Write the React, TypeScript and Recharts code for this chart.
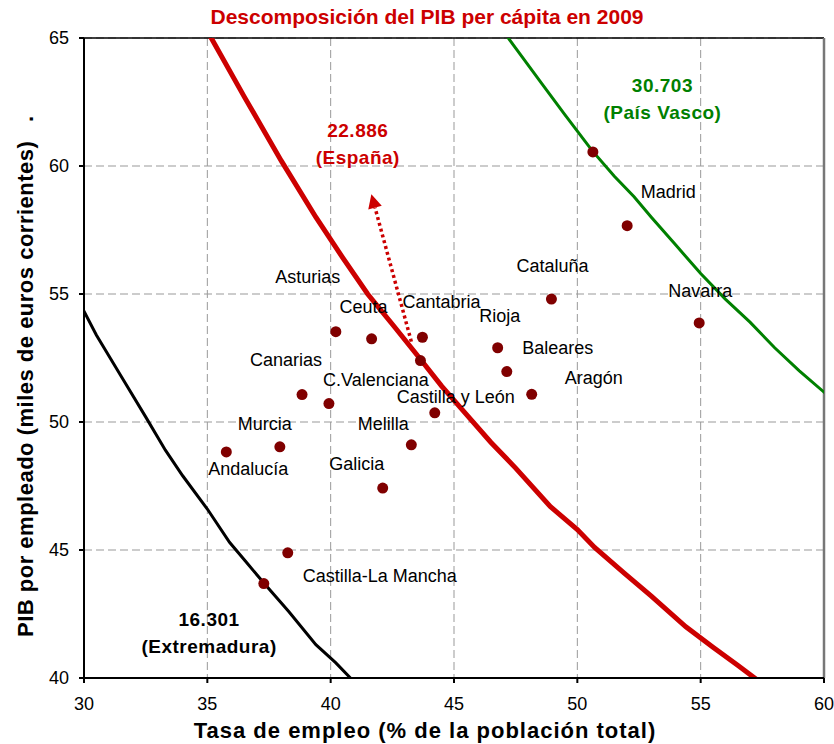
import React from 'react'
import {
  ComposedChart, Line, Scatter, XAxis, YAxis, CartesianGrid, ReferenceLine, ReferenceDot, Label,
} from 'recharts'

// regiones: tasa de empleo (%) y PIB por empleado (miles de euros)
const regions = [
  'País Vasco', 'Madrid', 'Cataluña', 'Navarra', 'Rioja', 'Baleares', 'Aragón',
  'Asturias', 'Ceuta', 'Cantabria', 'España', 'Canarias', 'C.Valenciana', 'Castilla y León',
  'Melilla', 'Murcia', 'Andalucía', 'Galicia', 'Castilla-La Mancha', 'Extremadura',
]
const empleo = [
  50.63, 52.02, 48.95, 54.94, 46.77, 47.14, 48.15,
  40.21, 41.66, 43.72, 43.64, 38.84, 39.93, 44.22,
  43.27, 37.94, 35.77, 42.11, 38.26, 37.29,
]
const pibEmpleado = [
  60.55, 57.67, 54.8, 53.87, 52.9, 51.97, 51.08,
  53.53, 53.25, 53.31, 52.4, 51.07, 50.72, 50.36,
  49.11, 49.03, 48.83, 47.42, 44.89, 43.69,
]

// curvas de igual PIB per cápita
const espanaX = [35.1, 36.5, 38.0, 39.4, 40.5, 41.5, 42.6, 43.6, 44.5, 45.5, 46.5, 47.5, 48.9, 50.0, 50.7, 51.9, 53.0, 54.4, 55.5, 56.5, 57.6]
const espanaY = [65.1, 62.7, 60.2, 58.0, 56.4, 55.0, 53.7, 52.5, 51.4, 50.3, 49.2, 48.2, 46.7, 45.8, 45.1, 44.1, 43.2, 42.0, 41.2, 40.5, 39.7]
const vascoX = [46.9, 47.5, 48.5, 49.5, 50.6, 51.5, 52.3, 53.0, 54.0, 55.0, 56.0, 57.0, 58.0, 59.0, 60.2]
const vascoY = [65.4, 64.6, 63.3, 62.0, 60.6, 59.6, 58.8, 58.0, 56.9, 55.8, 54.8, 53.9, 52.9, 52.0, 51.0]
const extremX = [29.8, 30.5, 31.5, 32.5, 33.3, 34.0, 35.0, 35.9, 36.6, 37.3, 38.3, 39.4, 40.2, 41.0]
const extremY = [54.7, 53.4, 51.8, 50.2, 48.9, 47.9, 46.6, 45.3, 44.5, 43.7, 42.6, 41.3, 40.6, 39.8]

const xTicks = [30, 35, 40, 45, 50, 55, 60]
const yTicks = [40, 45, 50, 55, 60, 65]

// flecha punteada (España)
const arrowFrom = { x: 43.27, y: 53.14 }
const arrowTo = { x: 41.65, y: 58.9 }

// notas de nivel de cada curva
const noteX = [41.1, 53.45, 35.07]
const noteY = [60.9, 62.66, 41.8]
const noteText = [['22.886', '(España)'], ['30.703', '(País Vasco)'], ['16.301', '(Extremadura)']]

const RED = '#cc0000'
const GREEN = '#008000'
const DOT = '#800000'
const FONT = '"Liberation Sans", Arial, sans-serif'
const noteColors = [RED, GREEN, '#000000']

// desplazamiento de las etiquetas respecto al punto (px)
const labelOffset: Record<string, [number, number]> = {
  Madrid: [41, -34], 'Cataluña': [1, -33], Navarra: [1, -32], Rioja: [2, -32],
  Baleares: [51, -24], 'Aragón': [62, -16], Asturias: [-28, -55], Ceuta: [-8, -32],
  Cantabria: [19, -35], Canarias: [-16, -35], 'C.Valenciana': [47, -24],
  'Castilla y León': [21, -16], Melilla: [-28, -21], Murcia: [-15, -23],
  'Andalucía': [22, 17], Galicia: [-26, -24], 'Castilla-La Mancha': [92, 23],
}

const pointData = regions.map((name, i) => ({ name, x: empleo[i], y: pibEmpleado[i] }))
const toLine = (xs: number[], ys: number[]) => xs.map((x, i) => ({ x, y: ys[i] }))

function RegionDot(props: any) {
  const { cx, cy, payload } = props
  const off = labelOffset[payload.name]
  return (
    <g>
      <circle cx={cx} cy={cy} r={5.5} fill={DOT} />
      {off && (
        <text x={cx + off[0]} y={cy + off[1]} textAnchor="middle" dominantBaseline="central"
          fontFamily={FONT} fontSize={18} fill="#000">{payload.name}</text>
      )}
    </g>
  )
}

function Arrow(props: any) {
  const { x1, y1, x2, y2 } = props
  const ang = Math.atan2(y2 - y1, x2 - x1)
  const len = 14
  const w = 7
  const bx = x2 - len * Math.cos(ang)
  const by = y2 - len * Math.sin(ang)
  const px = -Math.sin(ang) * w
  const py = Math.cos(ang) * w
  return (
    <g>
      <line x1={x1} y1={y1} x2={bx} y2={by} stroke={RED} strokeWidth={3.5} strokeDasharray="3 3" />
      <polygon points={`${x2},${y2} ${bx + px},${by + py} ${bx - px},${by - py}`} fill={RED} />
    </g>
  )
}

function Note(i: number) {
  return (props: any) => (
    <text x={props.cx} y={props.cy} textAnchor="middle" fontFamily={FONT} fontSize={19}
      fontWeight="bold" fill={noteColors[i]} letterSpacing={0.5}>
      <tspan x={props.cx} dy={-6}>{noteText[i][0]}</tspan>
      <tspan x={props.cx} dy={27}>{noteText[i][1]}</tspan>
    </text>
  )
}

export default function App() {
  const tick = { fontSize: 18, fill: '#000', fontFamily: FONT }
  return (
    <div style={{ position: 'absolute', left: 0, top: 0, width: 834, height: 744, background: '#fff' }}>
      <svg style={{ position: 'absolute', left: 0, top: 0 }} width={834} height={38}>
        <text x={427} y={24} textAnchor="middle" fontFamily={FONT} fontSize={21} fontWeight="bold" fill={RED}>
          Descomposición del PIB per cápita en 2009
        </text>
      </svg>
      <ComposedChart width={834} height={744} margin={{ top: 38, right: 10, left: 0, bottom: 0 }}>
        <CartesianGrid stroke="#999" strokeDasharray="8 4" strokeWidth={1} />
        <XAxis type="number" dataKey="x" domain={[30, 60]} ticks={xTicks} allowDataOverflow
          height={66} tick={tick} tickSize={5} tickMargin={14} stroke="#000" strokeWidth={2}
          interval={0}>
          <Label value="Tasa de empleo (% de la población total)" position="insideBottom" offset={6}
            dx={-29} style={{ fontFamily: FONT, fontSize: 22, fontWeight: 'bold', fill: '#000', letterSpacing: 1 }} />
        </XAxis>
        <YAxis type="number" dataKey="y" domain={[40, 65]} ticks={yTicks} allowDataOverflow
          width={84} tick={tick} tickSize={5} tickMargin={10} stroke="#000" strokeWidth={2}
          interval={0}>
          <Label
            content={() => (
              <g fontFamily={FONT} fontSize={22} fontWeight="bold" fill="#000">
                <text x={33} y={637} transform="rotate(-90 33 637)" textAnchor="start" letterSpacing={0.5}>
                  PIB por empleado (miles de euros corrientes)
                </text>
                <text x={33} y={119} transform="rotate(-90 33 119)" textAnchor="middle">.</text>
              </g>
            )}
          />
        </YAxis>
        <ReferenceLine y={65} stroke="#000" strokeWidth={1.5} />
        <ReferenceLine x={60} stroke="#777" strokeWidth={2.5} />
        <Line data={toLine(extremX, extremY)} dataKey="y" stroke="#000" strokeWidth={3}
          dot={false} type="linear" isAnimationActive={false} />
        <Line data={toLine(espanaX, espanaY)} dataKey="y" stroke={RED} strokeWidth={5}
          dot={false} type="linear" isAnimationActive={false} />
        <Line data={toLine(vascoX, vascoY)} dataKey="y" stroke={GREEN} strokeWidth={3}
          dot={false} type="linear" isAnimationActive={false} />
        <ReferenceLine segment={[arrowFrom, arrowTo]} shape={Arrow} ifOverflow="visible" />
        <Scatter data={pointData} dataKey="y" shape={RegionDot} isAnimationActive={false} />
        {noteX.map((x, i) => (
          <ReferenceDot key={i} x={x} y={noteY[i]} r={0} shape={Note(i)} ifOverflow="visible" />
        ))}
      </ComposedChart>
    </div>
  )
}
